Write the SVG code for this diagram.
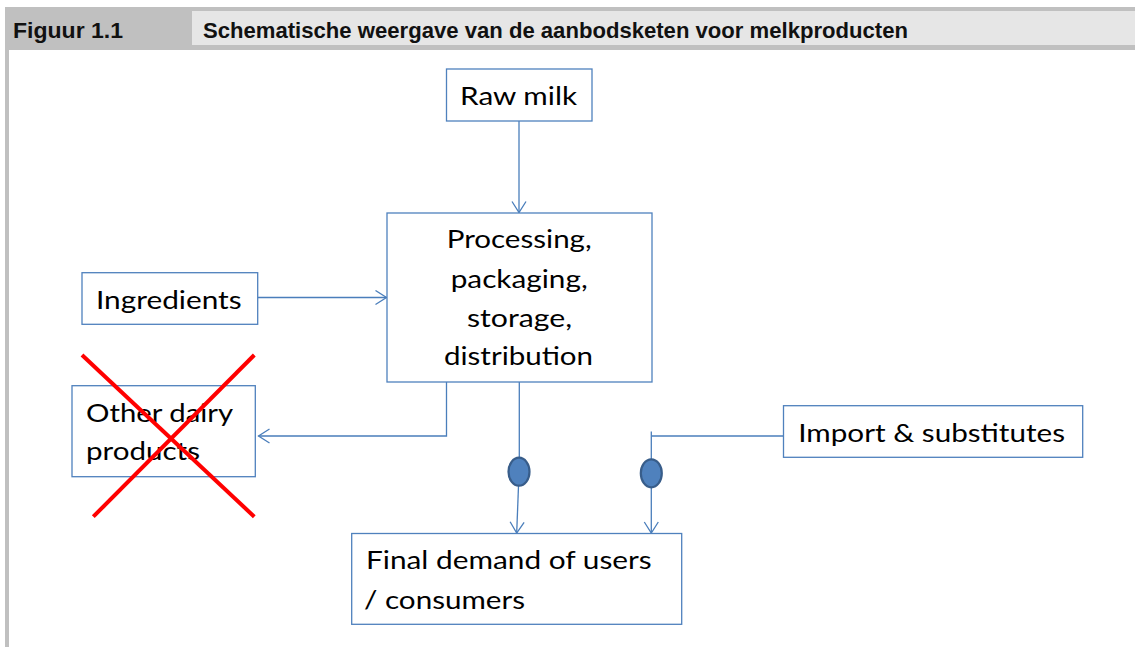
<svg xmlns="http://www.w3.org/2000/svg" width="1135" height="647" viewBox="0 0 1135 647">
<style>
.box{fill:#ffffff;stroke:#4f81bd;stroke-width:1.3}
.lbl{font-family:Lato,"Open Sans","Liberation Sans",sans-serif;font-size:25.5px;fill:#000}
.hdr{font-family:"Liberation Sans",Arial,sans-serif;font-weight:bold;font-size:22.5px;fill:#111}
.con{fill:none;stroke:#4a7ebb;stroke-width:1.3}
.dot{fill:#4f81bd;stroke:#385d8a;stroke-width:2.2}
.cross{stroke:#ff0000;stroke-width:4;stroke-linecap:butt}
</style>
<defs>
<marker id="arr" markerUnits="userSpaceOnUse" markerWidth="14" markerHeight="16" viewBox="0 0 14 16" refX="12" refY="8" orient="auto">
<path d="M1,1 L12,8 L1,15" fill="none" stroke="#4a7ebb" stroke-width="1.3"/>
</marker>
</defs>
<rect x="0" y="0" width="1135" height="647" fill="#ffffff"/>
<g id="header">
<rect x="5" y="7" width="1130" height="43" fill="#c0c0c0"/>
<rect x="192" y="11" width="943" height="34" fill="#e6e6e6"/>
<rect x="5" y="50" width="4" height="597" fill="#c0c0c0"/>
<text class="hdr" x="13" y="37.5" textLength="110" lengthAdjust="spacingAndGlyphs">Figuur 1.1</text>
<text class="hdr" x="203" y="37.5" textLength="705" lengthAdjust="spacingAndGlyphs">Schematische weergave van de aanbodsketen voor melkproducten</text>
</g>
<g id="connectors">
<line class="con" x1="519" y1="121" x2="519" y2="212.5" marker-end="url(#arr)"/>
<line class="con" x1="258" y1="297.5" x2="386.5" y2="297.5" marker-end="url(#arr)"/>
<polyline class="con" points="446.5,382 446.5,436 258.5,436" marker-end="url(#arr)"/>
<line class="con" x1="519.3" y1="382" x2="519.3" y2="458"/>
<line class="con" x1="518.5" y1="486" x2="516.7" y2="533" marker-end="url(#arr)"/>
<polyline class="con" points="783.5,436 651.3,436"/>
<line class="con" x1="651.3" y1="431.5" x2="651.3" y2="459"/>
<line class="con" x1="651.3" y1="487" x2="651.3" y2="533" marker-end="url(#arr)"/>
<ellipse class="dot" cx="519" cy="471.7" rx="10.5" ry="14"/>
<ellipse class="dot" cx="651.3" cy="473.3" rx="10.5" ry="14"/>
</g>
<g id="raw-milk">
<rect class="box" x="446.5" y="69" width="145.5" height="52"/>
<text class="lbl" x="460" y="105" textLength="117" lengthAdjust="spacingAndGlyphs">Raw milk</text>
</g>
<g id="processing">
<rect class="box" x="387" y="213" width="265" height="169"/>
<text class="lbl" x="446.7" y="248.3" textLength="145" lengthAdjust="spacingAndGlyphs">Processing,</text>
<text class="lbl" x="450.7" y="287.7" textLength="137" lengthAdjust="spacingAndGlyphs">packaging,</text>
<text class="lbl" x="467" y="326.7" textLength="105" lengthAdjust="spacingAndGlyphs">storage,</text>
<text class="lbl" x="444" y="365" textLength="149" lengthAdjust="spacingAndGlyphs">distribution</text>
</g>
<g id="ingredients">
<rect class="box" x="82" y="272.7" width="175.7" height="51.6"/>
<text class="lbl" x="96" y="309.3" textLength="145.7" lengthAdjust="spacingAndGlyphs">Ingredients</text>
</g>
<g id="other-dairy">
<rect class="box" x="72" y="385.7" width="183.3" height="91"/>
<text class="lbl" x="86" y="421.7" textLength="147" lengthAdjust="spacingAndGlyphs">Other dairy</text>
<text class="lbl" x="86" y="460" textLength="114" lengthAdjust="spacingAndGlyphs">products</text>
<line class="cross" x1="82" y1="355" x2="254.3" y2="516.7"/>
<line class="cross" x1="254.3" y1="355" x2="93.3" y2="516.7"/>
</g>
<g id="import">
<rect class="box" x="783.5" y="405.7" width="299.2" height="51.6"/>
<text class="lbl" x="798.3" y="441.7" textLength="266.7" lengthAdjust="spacingAndGlyphs">Import &amp; substitutes</text>
</g>
<g id="final-demand">
<rect class="box" x="351.7" y="533.5" width="330" height="90.8"/>
<text class="lbl" x="366" y="569.3" textLength="285.7" lengthAdjust="spacingAndGlyphs">Final demand of users</text>
<text class="lbl" x="364" y="609.3" textLength="161" lengthAdjust="spacingAndGlyphs">/ consumers</text>
</g>
</svg>
